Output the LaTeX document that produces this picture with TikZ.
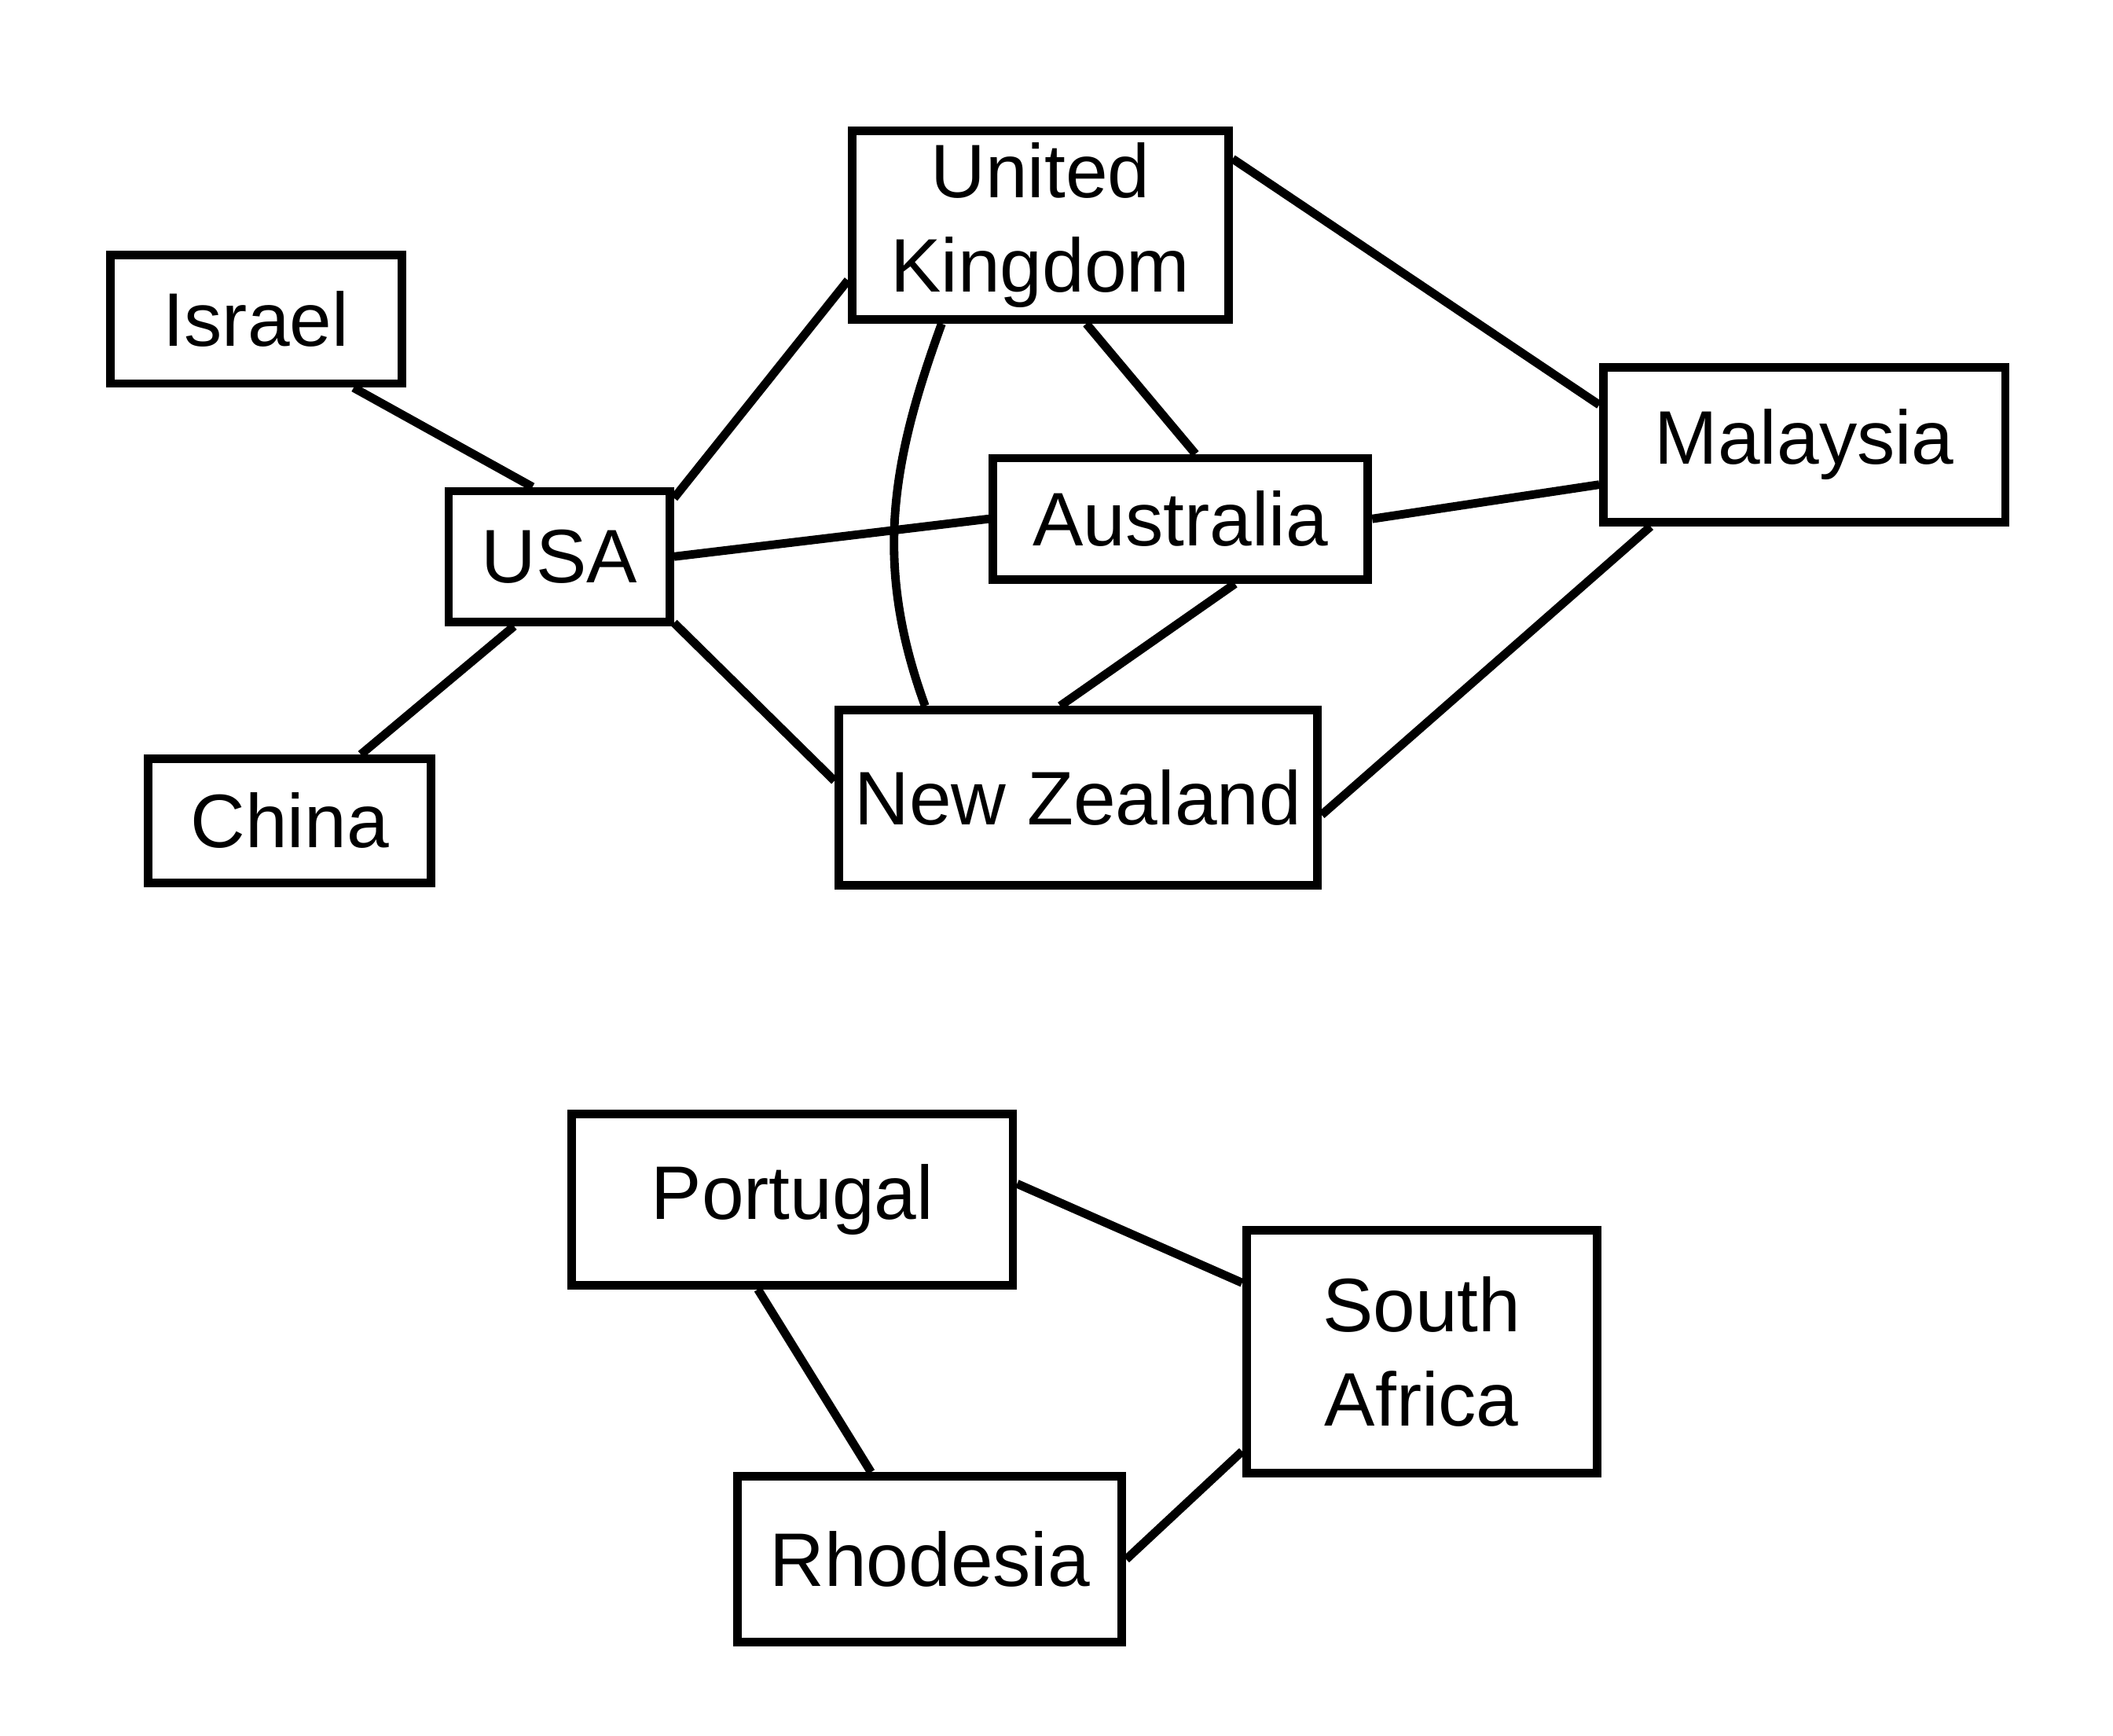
\documentclass[tikz,border=0pt]{standalone}
\usepackage{fontspec}
\setmainfont{Liberation Sans}
\begin{document}
\begin{tikzpicture}[x=0.01cm,y=0.01cm,
    paese/.style={draw, line width=1.8pt, inner sep=2pt, align=center, font=\fontsize{16}{20}\selectfont},
    arco/.style={line width=1.8pt}]
            \useasboundingbox (0,0) rectangle (1568,-1288);

            %gruppo in alto, USA al centro a sinistra
            \node[paese, minimum width=2.16cm, minimum height=0.95cm] (israel) at (190,-237) {Israel};
            \node[paese, minimum width=1.64cm, minimum height=0.97cm] (usa) at (415,-413) {USA};
            \node[paese, minimum width=2.10cm, minimum height=0.92cm] (china) at (215,-609) {China};

            %i paesi del commonwealth
            \node[paese, minimum width=2.79cm, minimum height=1.40cm] (uk) at (772,-167) {United\\Kingdom};
            \node[paese, minimum width=2.78cm, minimum height=0.90cm] (aus) at (876,-385) {Australia};
            \node[paese, minimum width=3.55cm, minimum height=1.30cm] (nz) at (800,-592) {New Zealand};
            \node[paese, minimum width=2.98cm, minimum height=1.15cm] (mal) at (1339,-330) {Malaysia};

            %gruppo in basso
            \node[paese, minimum width=3.27cm, minimum height=1.27cm] (pt) at (588,-890) {Portugal};
            \node[paese, minimum width=2.60cm, minimum height=1.80cm] (sa) at (1055,-1003) {South\\Africa};
            \node[paese, minimum width=2.85cm, minimum height=1.23cm] (rh) at (690,-1157) {Rhodesia};

            %Archi 
            \draw[arco] (israel.-35) -- (usa.111);
            \draw[arco] (china.43) -- (usa.-123);
            \draw[arco] (usa.27) -- (uk.196);
            \draw[arco] (usa.east) -- (aus.west);
            \draw[arco] (usa.-30) -- (nz.176);
            \draw[arco] (uk.225) to[out=250,in=110] (nz.149);
            \draw[arco] (uk.-65) -- (aus.77);
            \draw[arco] (uk.19) -- (mal.169);
            \draw[arco] (aus.-50) -- (nz.101);
            \draw[arco] (aus.east) -- (mal.191);
            \draw[arco] (mal.208) -- (nz.-4);
            \draw[arco] (pt.4) -- (sa.159);
            \draw[arco] (pt.249) -- (rh.124);
            \draw[arco] (rh.east) -- (sa.209);

        \end{tikzpicture}
\end{document}
